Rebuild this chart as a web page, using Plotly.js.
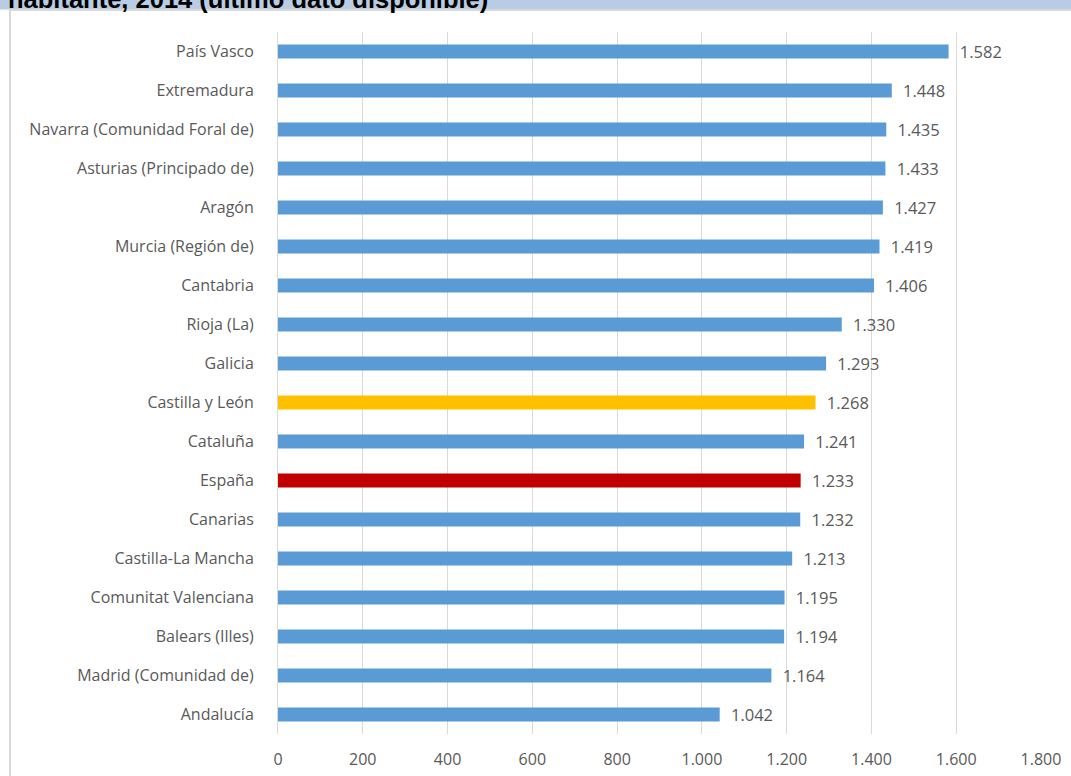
<!DOCTYPE html>
<html>
<head>
<meta charset="utf-8">
<script src="https://cdn.plot.ly/plotly-3.0.1.min.js"></script>
<style>html,body{margin:0;padding:0;background:#fff;}#chart{width:1071px;height:776px;}</style>
</head>
<body>
<div id="chart"></div>
<script>
const categories = ["País Vasco","Extremadura","Navarra (Comunidad Foral de)","Asturias (Principado de)","Aragón","Murcia (Región de)","Cantabria","Rioja (La)","Galicia","Castilla y León","Cataluña","España","Canarias","Castilla-La Mancha","Comunitat Valenciana","Balears (Illes)","Madrid (Comunidad de)","Andalucía"];
const values = [1582,1448,1435,1433,1427,1419,1406,1330,1293,1268,1241,1233,1232,1213,1195,1194,1164,1042];
const barColors = categories.map(c => c === "España" ? "#c00000" : (c === "Castilla y León" ? "#ffc000" : "#5b9bd5"));
const tickValues = [0,200,400,600,800,1000,1200,1400,1600,1800];
const titleText = "habitante, 2014 (último dato disponible)";

const L = 278, R = 1041, T = 31.5, B = 734.5, W = 1071, H = 776;
const px = x => (x - L) / (R - L);
const py = y => (B - y) / (B - T);
const fontFam = "'Open Sans', Lato, sans-serif";

const trace = {
  type: "bar",
  orientation: "h",
  y: categories,
  x: values,
  marker: {color: barColors},
  width: 0.36,
  texttemplate: "\u2002%{x:,}",
  textposition: "outside",
  constraintext: "none",
  cliponaxis: false,
  textfont: {family: fontFam, size: 16.5, color: "#595959"},
  hoverinfo: "skip"
};

const layout = {
  width: W, height: H,
  margin: {l: L, r: W - R, t: T, b: H - B, pad: 0},
  paper_bgcolor: "#ffffff",
  plot_bgcolor: "#ffffff",
  separators: ",.",
  showlegend: false,
  xaxis: {
    range: [0, 1800],
    tickvals: tickValues,
    tickformat: ",d",
    showgrid: true,
    gridcolor: "#d9d9d9",
    gridwidth: 1,
    zeroline: false,
    showline: false,
    ticks: "",
    ticklabelstandoff: 14,
    tickfont: {family: fontFam, size: 16, color: "#595959"},
    fixedrange: true
  },
  yaxis: {
    autorange: "reversed",
    type: "category",
    showgrid: false,
    zeroline: false,
    showline: true,
    linecolor: "#d9d9d9",
    linewidth: 1,
    ticks: "",
    ticklabelstandoff: 20,
    tickfont: {family: fontFam, size: 16, color: "#595959"},
    fixedrange: true
  },
  shapes: [
    {type: "rect", xref: "paper", yref: "paper", x0: px(0), x1: px(W), y0: py(9), y1: py(-2), fillcolor: "#b8cce4", line: {width: 0}, layer: "below"},
    {type: "line", xref: "paper", yref: "paper", x0: px(9), x1: px(W), y0: py(9.5), y1: py(9.5), line: {color: "#d9d9d9", width: 2}},
    {type: "line", xref: "paper", yref: "paper", x0: px(10), x1: px(10), y0: py(9), y1: py(H + 2), line: {color: "#d9d9d9", width: 2}}
  ],
  annotations: [
    {text: "<b>" + titleText + "</b>", xref: "paper", yref: "paper", x: px(7), y: py(13), xanchor: "left", yanchor: "bottom", showarrow: false,
     font: {family: "Liberation Sans, Arial, sans-serif", size: 25.5, color: "#000000"}, borderpad: 0}
  ]
};

Plotly.newPlot("chart", [trace], layout, {displayModeBar: false, staticPlot: true});
</script>
</body>
</html>
